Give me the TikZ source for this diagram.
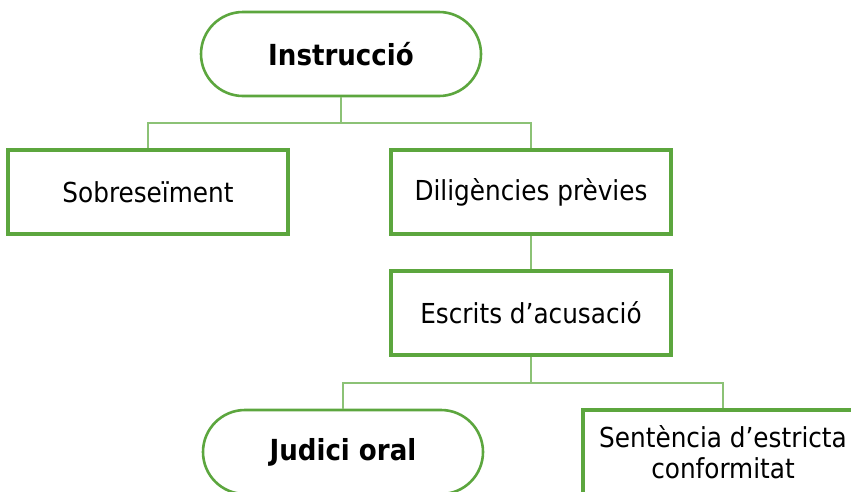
\documentclass[tikz,border=0pt]{standalone}
\usepackage{fontspec}
\setmainfont{DejaVu Sans Condensed}
\usetikzlibrary{positioning}
\definecolor{boxgreen}{RGB}{92,166,62}
\definecolor{linkgreen}{RGB}{140,194,118}
\tikzset{
    stepbox/.style={draw=boxgreen,line width=3.2pt,fill=white,minimum width=280pt,minimum height=84pt,align=center,font=\fontsize{27.5}{31}\selectfont},
    term/.style={stepbox,line width=2.6pt,rounded corners=42pt,font=\fontsize{29}{31}\selectfont\bfseries},
    link/.style={draw=linkgreen,line width=2pt},
  }
\begin{document}
\begin{tikzpicture}[x=1pt,y=-1pt]
				  %marges
				  \useasboundingbox (0,0) rectangle (851,491);
				  \clip (0,0) rectangle (851,491);

				  %NIVELL 1
				  \node[term] (inst) at (341,54) {Instrucció};

				  %NIVELL 2
				  \node[stepbox] (sob) at (148,192) {Sobreseïment};
				  \node[stepbox] (dil) at (531,192) {Diligències prèvies};
				  \coordinate (j1) at (341,123);
				  \draw[link] (inst.south) -- (j1);
				  \draw[link] (j1) -| (sob.north);
				  \draw[link] (j1) -| (dil.north);

				  %NIVELL 3
				  \node[stepbox] (esc) at (531,313) {Escrits d’acusació};
				  \draw[link] (dil.south) -- (esc.north);

				  %NIVELL 4
				  \node[term] (jud) at (343,452) {Judici oral};
				  \node[stepbox] (sen) at (723,452) {Sentència d’estricta\\conformitat};
				  \coordinate (j2) at (531,383);
				  \draw[link] (esc.south) -- (j2);
				  \draw[link] (j2) -| (jud.north);
				  \draw[link] (j2) -| (sen.north);
				  \end{tikzpicture}
\end{document}
